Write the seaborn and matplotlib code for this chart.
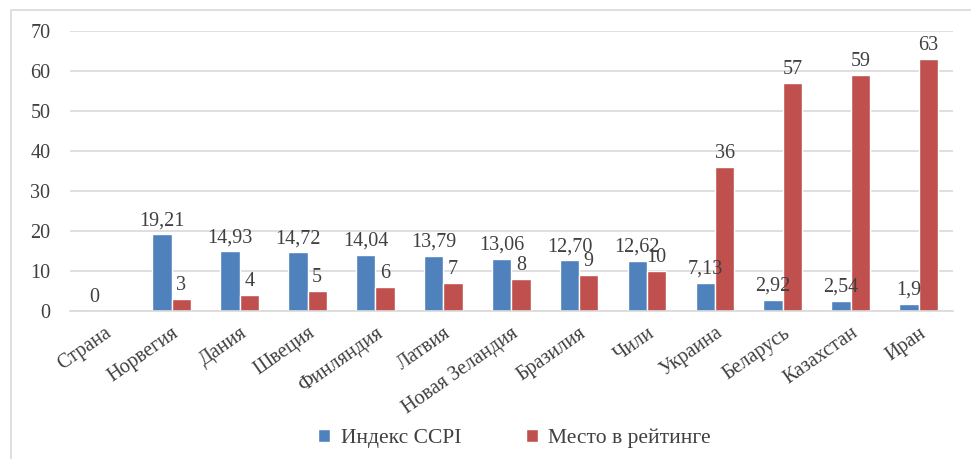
import numpy as np
import pandas as pd
import matplotlib
matplotlib.use("Agg")
import matplotlib.pyplot as plt
import seaborn as sns
from matplotlib.patches import Rectangle

categories = ["Страна", "Норвегия", "Дания", "Швеция", "Финляндия", "Латвия",
              "Новая Зеландия", "Бразилия", "Чили", "Украина", "Беларусь",
              "Казахстан", "Иран"]
ccpi = [0, 19.21, 14.93, 14.72, 14.04, 13.79, 13.06, 12.70, 12.62, 7.13, 2.92, 2.54, 1.9]
ccpi_labels = ["0", "19,21", "14,93", "14,72", "14,04", "13,79", "13,06", "12,70",
               "12,62", "7,13", "2,92", "2,54", "1,9"]
rank = [np.nan, 3, 4, 5, 6, 7, 8, 9, 10, 36, 57, 59, 63]
rank_labels = ["", "3", "4", "5", "6", "7", "8", "9", "10", "36", "57", "59", "63"]
series_names = ["Индекс CCPI", "Место в рейтинге"]
colors = ["#4F81BD", "#C0504D"]
yticks = [0, 10, 20, 30, 40, 50, 60, 70]

df = pd.DataFrame({
    "country": categories * 2,
    "value": ccpi + rank,
    "series": [series_names[0]] * len(categories) + [series_names[1]] * len(categories),
})

sns.set_style("white")
plt.rcParams["font.family"] = ["Liberation Serif", "DejaVu Serif"]
txt = "#404040"

fig = plt.figure(figsize=(9.71, 4.59), dpi=100)
ax = fig.add_axes([0.072, 0.322, 0.909, 0.61])
sns.barplot(data=df, x="country", y="value", hue="series", palette=colors,
            width=0.57, gap=0, ax=ax, saturation=1, legend=True, errorbar=None)

ax.set_ylim(0, 70)
ax.set_yticks(yticks)
ax.set_xlim(-0.5, len(categories) - 0.5)
ax.yaxis.grid(True, color="#D9D9D9", linewidth=1.2)
ax.set_axisbelow(True)
for s in ["top", "right", "left"]:
    ax.spines[s].set_visible(False)
ax.spines["bottom"].set_color("#D9D9D9")
ax.spines["bottom"].set_linewidth(1.2)
ax.set_xlabel("")
ax.set_ylabel("")
ax.tick_params(axis="y", length=0, pad=14, labelsize=14.5, labelcolor=txt)
ax.tick_params(axis="x", length=0, pad=9, labelsize=14.5, labelcolor=txt)
plt.setp(ax.get_xticklabels(), rotation=35, ha="right", va="top", rotation_mode="anchor")

for cont, labs in zip(ax.containers, [ccpi_labels, rank_labels]):
    for bar in cont:
        if bar is None:
            continue
        cx = bar.get_x() + bar.get_width() / 2
        lab = labs[int(round(cx))]
        if lab == "":
            continue
        ax.annotate(lab, (cx, bar.get_height()),
                    xytext=(0, 3), textcoords="offset points", ha="center", va="bottom",
                    fontsize=14.5, color=txt)

handles, labels = ax.get_legend_handles_labels()
ax.legend_.remove()
fig.legend(handles, labels, loc="center", bbox_to_anchor=(0.53, 0.045), ncol=2,
           frameon=False, fontsize=15.5, handlelength=0.55, handleheight=0.55,
           columnspacing=3.0, labelcolor=txt, handletextpad=0.5)

fig.patches.append(Rectangle((0.011, -0.01), 1.2, 0.988, transform=fig.transFigure,
                             fill=False, edgecolor="#D9D9D9", linewidth=1.2))
fig.savefig("out.png", dpi=100)
